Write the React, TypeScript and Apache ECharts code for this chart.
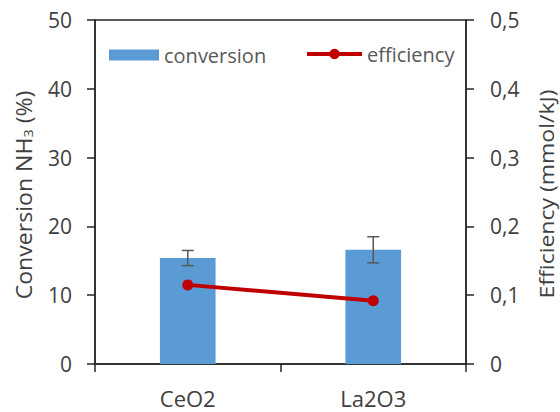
import React, { useEffect, useRef } from "react";
import * as echarts from "echarts";

const categories = ["CeO2", "La2O3"];
const conversion = [15.4, 16.6];
const conversionErr = [1.1, 1.9];
const efficiency = [0.115, 0.092];
const leftTicks = { min: 0, max: 50, interval: 10 };
const rightTicks = { min: 0, max: 0.5, interval: 0.1 };

const FONT = "Open Sans";
const TXT = "#404040";
const AX = "#262626";

export default function App() {
  const ref = useRef<HTMLDivElement>(null);
  useEffect(() => {
    if (!ref.current) return;
    const chart = echarts.init(ref.current, null, { renderer: "svg" });
    const errData = categories.map((c, i) => [i, conversion[i] - conversionErr[i], conversion[i] + conversionErr[i]]);
    chart.setOption({
      animation: false,
      textStyle: { fontFamily: FONT },
      grid: { left: 95, right: 94, top: 20, bottom: 48, show: true, borderColor: AX, borderWidth: 1.5 },
      legend: [
        {
          left: 104,
          top: 40,
          itemWidth: 50,
          itemHeight: 11,
          textStyle: { fontFamily: FONT, fontSize: 20, color: "#595959" },
          data: [{ name: "conversion", icon: "rect" }],
        },
        {
          left: 300,
          top: 39,
          itemWidth: 55,
          itemHeight: 13,
          textStyle: { fontFamily: FONT, fontSize: 20, color: "#595959" },
          lineStyle: { width: 4 },
          data: [{ name: "efficiency" }],
        },
      ],
      xAxis: {
        type: "category",
        data: categories,
        axisLine: { lineStyle: { color: AX, width: 1.5 } },
        axisTick: { show: true, length: 8, lineStyle: { color: AX, width: 1.5 } },
        axisLabel: { fontFamily: FONT, fontSize: 22, color: TXT, margin: 23 },
      },
      yAxis: [
        {
          type: "value",
          min: leftTicks.min,
          max: leftTicks.max,
          interval: leftTicks.interval,
          splitLine: { show: false },
          axisLine: { show: true, lineStyle: { color: AX, width: 1.5 } },
          axisTick: { show: true, length: 8, lineStyle: { color: AX, width: 1.5 } },
          axisLabel: { fontFamily: FONT, fontSize: 21, color: TXT, margin: 23 },
        },
        {
          type: "value",
          min: rightTicks.min,
          max: rightTicks.max,
          interval: rightTicks.interval,
          splitLine: { show: false },
          axisLine: { show: true, lineStyle: { color: AX, width: 1.5 } },
          axisTick: { show: true, length: 8, lineStyle: { color: AX, width: 1.5 } },
          axisLabel: {
            fontFamily: FONT,
            fontSize: 21,
            color: TXT,
            margin: 24,
            formatter: (v: number) => (v === 0 ? "0" : v.toFixed(1).replace(".", ",")),
          },
        },
      ],
      graphic: [
        {
          type: "text",
          x: 23,
          y: 195,
          rotation: Math.PI / 2,
          scaleX: 1.1,
          style: {
            text: "Conversion NH{sub|3} (%)",
            fontFamily: FONT,
            fontSize: 21,
            lineHeight: 22,
            fill: TXT,
            align: "center",
            verticalAlign: "middle",
            rich: { sub: { fontSize: 13, lineHeight: 22, fontFamily: FONT, fill: TXT, verticalAlign: "bottom", padding: [8, 0, 0, 0] } },
          },
        },
        {
          type: "text",
          x: 546,
          y: 194,
          rotation: Math.PI / 2,
          scaleX: 1.15,
          style: {
            text: "Efficiency (mmol/kJ)",
            fontFamily: FONT,
            fontSize: 20,
            lineHeight: 21,
            fill: TXT,
            align: "center",
            verticalAlign: "middle",
          },
        },
      ],
      series: [
        {
          name: "conversion",
          type: "bar",
          data: conversion,
          barWidth: "30%",
          itemStyle: { color: "#5b9bd5" },
        },
        {
          name: "err",
          type: "custom",
          data: errData,
          z: 5,
          renderItem: (params: any, api: any) => {
            const x = api.value(0);
            const lo = api.coord([x, api.value(1)]);
            const hi = api.coord([x, api.value(2)]);
            const w = 6;
            const st = { stroke: "#595959", lineWidth: 1.5 };
            return {
              type: "group",
              children: [
                { type: "line", shape: { x1: lo[0], y1: lo[1], x2: hi[0], y2: hi[1] }, style: st },
                { type: "line", shape: { x1: lo[0] - w, y1: lo[1], x2: lo[0] + w, y2: lo[1] }, style: st },
                { type: "line", shape: { x1: hi[0] - w, y1: hi[1], x2: hi[0] + w, y2: hi[1] }, style: st },
              ],
            };
          },
        },
        {
          name: "efficiency",
          type: "line",
          yAxisIndex: 1,
          data: efficiency,
          symbol: "circle",
          symbolSize: 11,
          itemStyle: { color: "#c00000" },
          lineStyle: { color: "#c00000", width: 4 },
          z: 10,
        },
      ],
    });
    return () => chart.dispose();
  }, []);
  return <div ref={ref} style={{ width: 560, height: 412, position: "absolute", left: 0, top: 0 }} />;
}
